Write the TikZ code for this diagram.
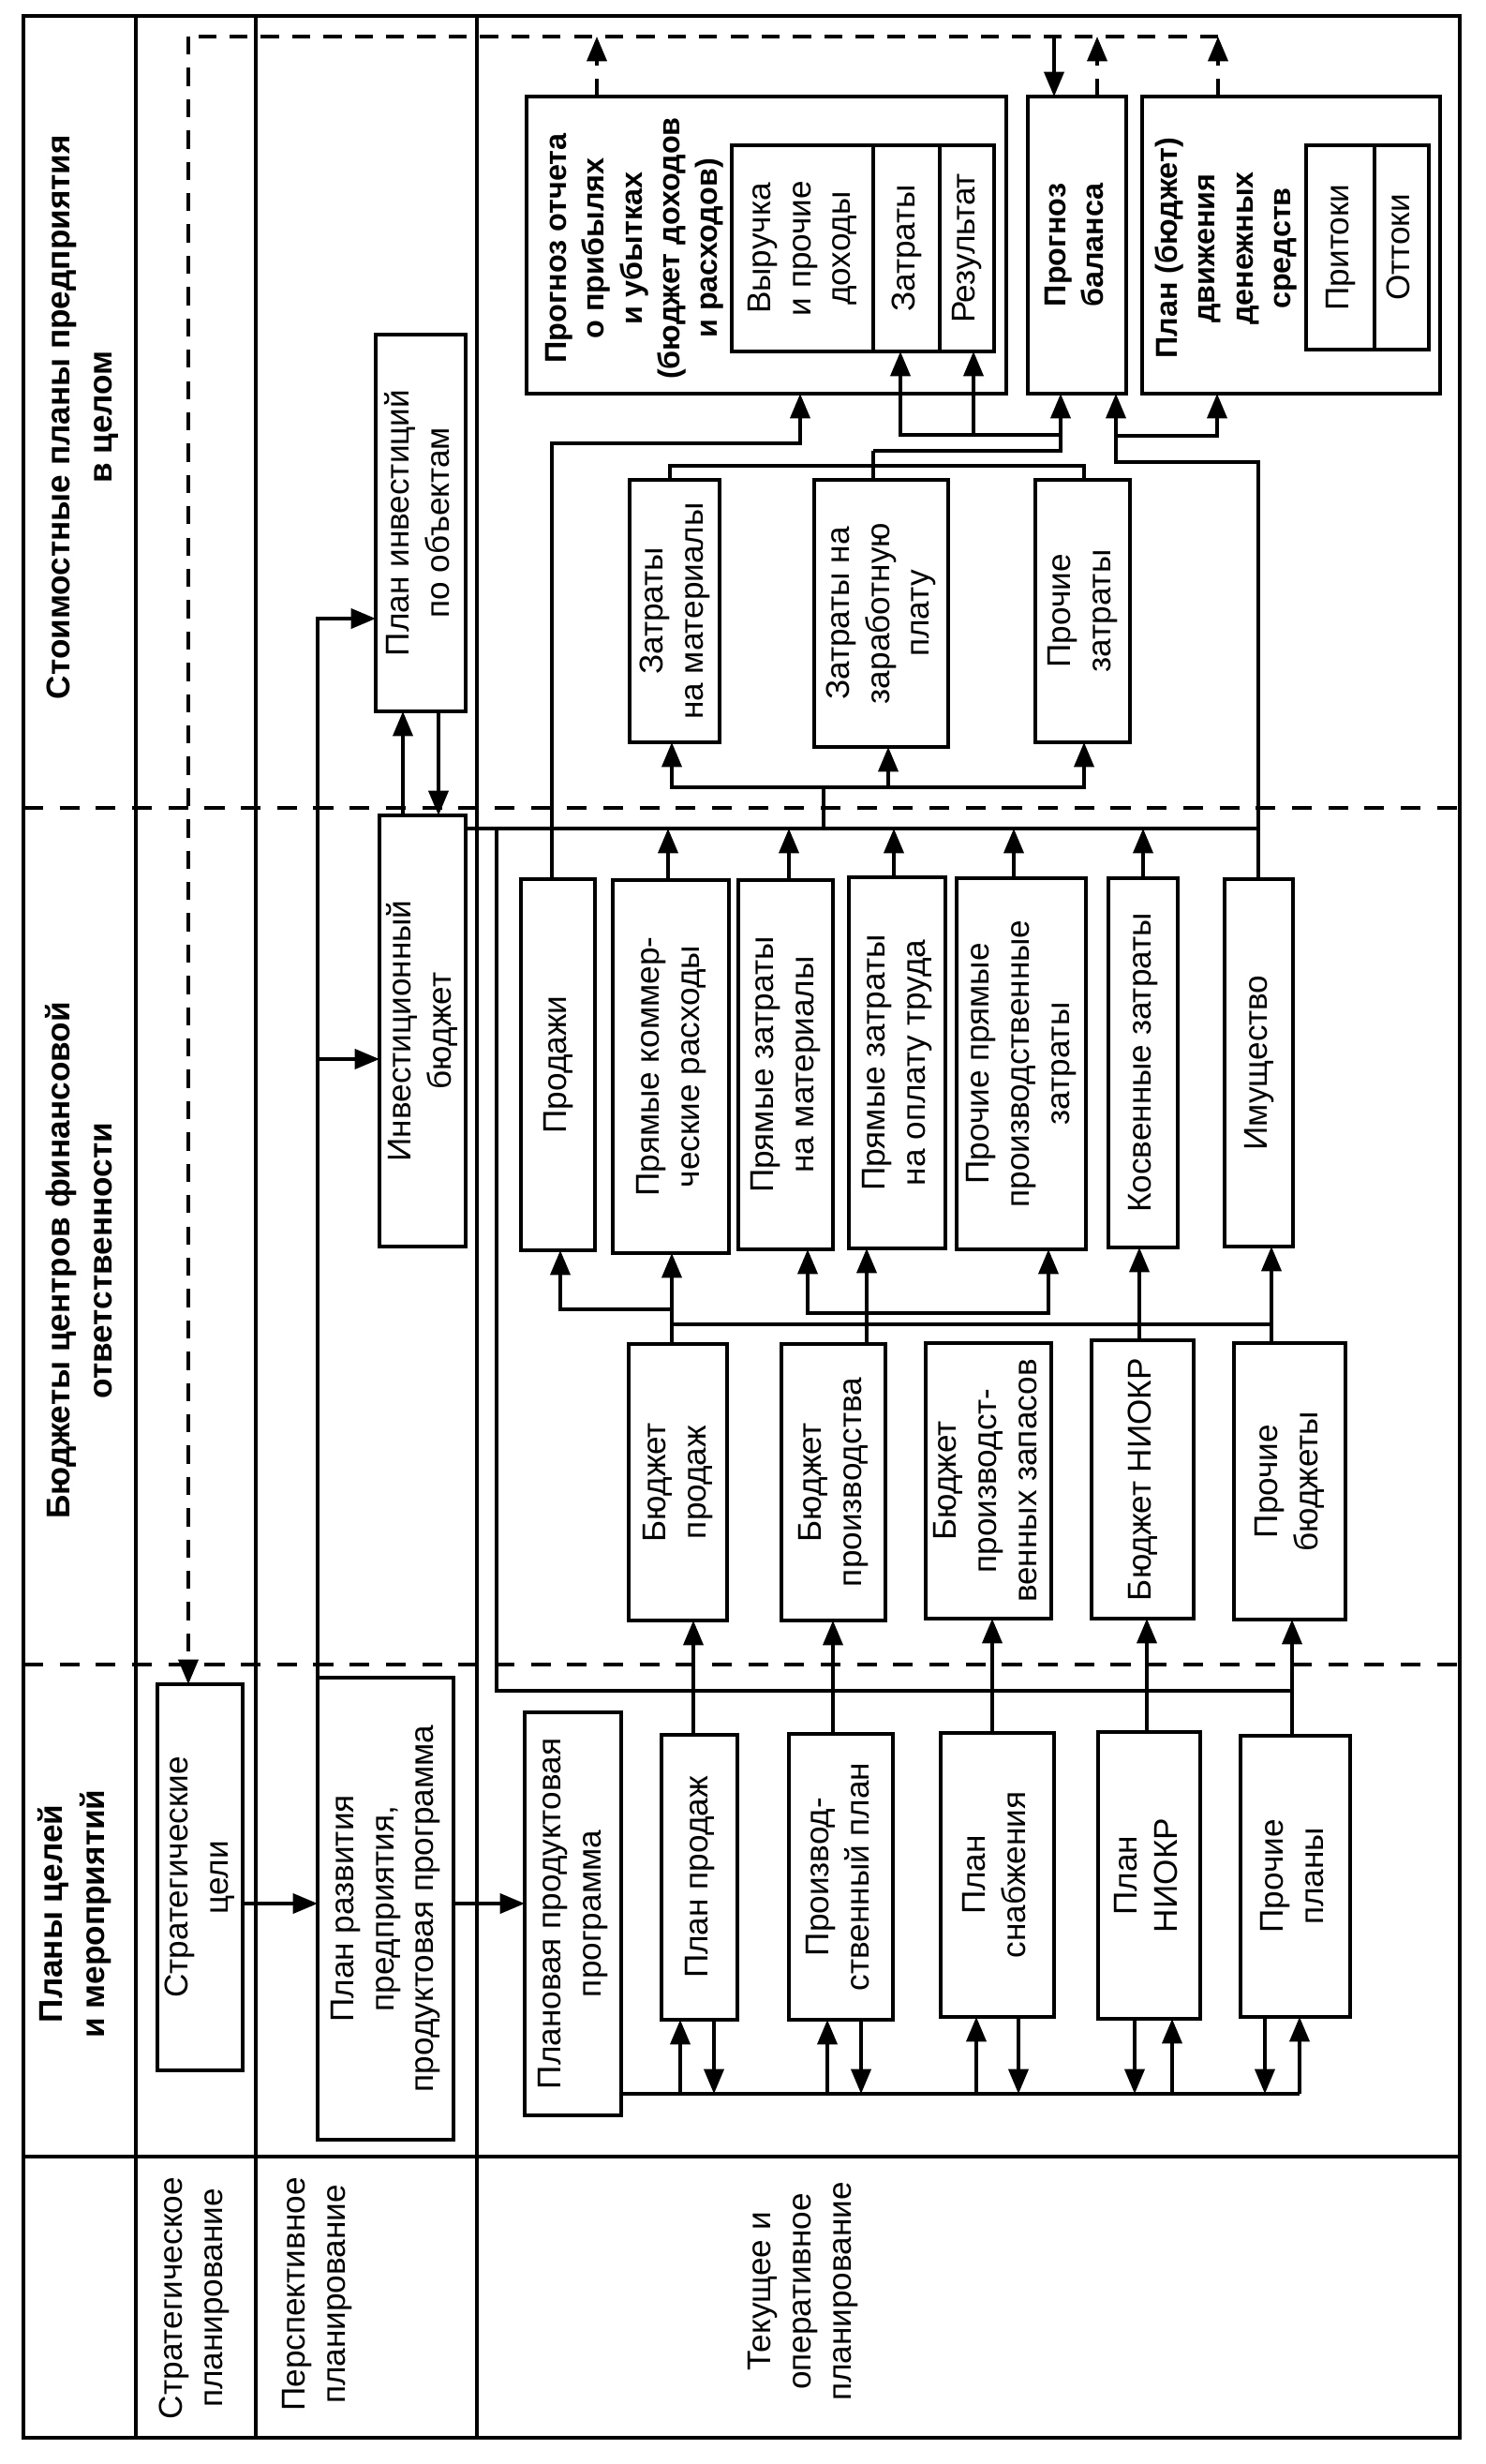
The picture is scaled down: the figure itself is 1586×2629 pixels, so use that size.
\documentclass[tikz,border=0pt]{standalone}
\usepackage{fontspec}
\setmainfont{Liberation Sans}
\usepackage{graphicx}
\usetikzlibrary{arrows.meta}
\newcommand\rt[1]{\rotatebox{90}{\begin{tabular}{@{}c@{}}#1\end{tabular}}}
\newcommand\bx[7][]{\node[box,#1,minimum width={(#5-#3)*0.01cm},minimum height={(#6-#4)*0.01cm}] (#2) at ({(#3+#5)/2},{(#4+#6)/2}) {\rt{#7}};}
\begin{document}
\begin{tikzpicture}[x=0.01cm,y=-0.01cm,
 box/.style={draw,line width=1.15pt,inner sep=0pt,outer sep=0pt,font=\fontsize{10}{12.2}\selectfont},
 bbox/.style={font=\fontsize{9.2}{11.5}\selectfont\bfseries},
 btxt/.style={inner sep=0pt,font=\fontsize{9.2}{11.5}\selectfont\bfseries},
 lbl/.style={inner sep=0pt,font=\fontsize{10}{12.2}\selectfont},
 hdr/.style={inner sep=0pt,font=\fontsize{10}{12.8}\selectfont\bfseries},
 frm/.style={line width=1.25pt},
 seprule/.style={line width=1pt,dash pattern=on 6pt off 5pt},
 ln/.style={line width=1pt},
 arr/.style={line width=1pt,-{Triangle[length=7.5pt,width=6pt]}},
 dln/.style={line width=1pt,dash pattern=on 5.5pt off 4pt},
 darr/.style={dln,-{Triangle[length=7.5pt,width=6pt]}}]
\useasboundingbox (0,0) rectangle (1586,2629);

% table frame
\draw[frm] (25,17) rectangle (1558,2601);
\draw[frm] (145,17) -- (145,2601);
\draw[frm] (273,17) -- (273,2601);
\draw[frm] (509,17) -- (509,2601);
\draw[frm] (25,2301) -- (1558,2301);
\draw[seprule] (25,862) -- (1558,862);
\draw[seprule] (25,1776) -- (1558,1776);

% headers
\node[hdr] (hA) at (88,445) {\rt{Стоимостные планы предприятия\\в целом}};
\node[hdr] (hB) at (88,1345) {\rt{Бюджеты центров финансовой\\ответственности}};
\node[hdr] (hC) at (80,2042) {\rt{Планы целей\\и мероприятий}};
\node[lbl] (rA) at (207,2452) {\rt{Стратегическое\\планирование}};
\node[lbl] (rB) at (338,2448) {\rt{Перспективное\\планирование}};
\node[lbl] (rC) at (857,2445) {\rt{Текущее и\\оперативное\\планирование}};

% plans
\bx{strat}{168}{1797}{259}{2209}{Стратегические\\цели}
\bx{razv}{339}{1790}{484}{2283}{План развития\\предприятия,\\продуктовая программа}
\bx{plprog}{560}{1827}{663}{2257}{Плановая продуктовая\\программа}
\bx{pprod}{706}{1851}{787}{2155}{План продаж}
\bx{prplan}{842}{1850}{953}{2155}{Производ-\\ственный план}
\bx{snab}{1004}{1849}{1125}{2152}{План\\снабжения}
\bx{niokr}{1172}{1848}{1281}{2154}{План\\НИОКР}
\bx{prochpl}{1324}{1852}{1441}{2152}{Прочие\\планы}

% budgets
\bx{bprod}{671}{1434}{776}{1729}{Бюджет\\продаж}
\bx{bproizv}{834}{1434}{945}{1729}{Бюджет\\производства}
\bx{bzap}{988}{1433}{1122}{1727}{Бюджет\\производст-\\венных запасов}
\bx{bniokr}{1165}{1430}{1274}{1727}{Бюджет НИОКР}
\bx{bproch}{1317}{1433}{1436}{1728}{Прочие\\бюджеты}

% investment
\bx{invb}{405}{870}{497}{1330}{Инвестиционный\\бюджет}
\bx{invpl}{401}{357}{497}{759}{План инвестиций\\по объектам}

% responsibility centres
\bx{prodazhi}{556}{938}{635}{1334}{Продажи}
\bx{pkr}{654}{939}{778}{1337}{Прямые коммер-\\ческие расходы}
\bx{pzm}{788}{939}{889}{1333}{Прямые затраты\\на материалы}
\bx{pzt}{906}{936}{1009}{1332}{Прямые затраты\\на оплату труда}
\bx{ppz}{1021}{937}{1159}{1333}{Прочие прямые\\производственные\\затраты}
\bx{kosv}{1183}{937}{1257}{1331}{Косвенные затраты}
\bx{imush}{1307}{938}{1380}{1330}{Имущество}

% cost types
\bx{zmat}{672}{512}{768}{792}{Затраты\\на материалы}
\bx{zzp}{869}{512}{1012}{797}{Затраты на\\заработную\\плату}
\bx{zpr}{1105}{512}{1206}{792}{Прочие\\затраты}

% financial statements
\bx{opu}{562}{103}{1074}{420}{}
\node[btxt] (opuT) at (677,265) {\rt{Прогноз отчета\\о прибылях\\и убытках\\(бюджет доходов\\и расходов)}};
\bx{opuA}{781}{155}{932}{375}{Выручка\\и прочие\\доходы}
\bx{opuB}{932}{155}{1003}{375}{Затраты}
\bx{opuC}{1003}{155}{1061}{375}{Результат}
\bx[bbox]{bal}{1097}{103}{1202}{420}{Прогноз\\баланса}
\bx{dds}{1219}{103}{1537}{420}{}
\node[btxt] (ddsT) at (1309,265) {\rt{План (бюджет)\\движения\\денежных\\средств}};
\bx{ddsA}{1394}{155}{1467}{373}{Притоки}
\bx{ddsB}{1467}{155}{1525}{373}{Оттоки}

% junction coordinates
\coordinate (jTop) at (201,39);
\coordinate (jTopR) at (1300,39);
\coordinate (jRv) at (339,660);
\coordinate (jRvB) at (339,1130);
\coordinate (jCol) at (1343,884);
\coordinate (jLoop) at (530,884);
\coordinate (jLoopB) at (530,1804);
\coordinate (jLoopE) at (1379,1804);
\coordinate (jBus) at (1387,2234);
\coordinate (jDist) at (879,840);
\coordinate (jCost) at (715,497);
\coordinate (jBal) at (1132,481);
\coordinate (jRes) at (1132,464);
\coordinate (jIm) at (1343,493);
\coordinate (jDds) at (1191,465);
\coordinate (jSal) at (589,473);

% top dashed feedback
\draw[dln] (jTopR) -- (jTop);
\draw[darr] (jTop) -- (jTop |- strat.north);
\draw[darr] (jTopR |- dds.north) -- (jTopR);
\draw[darr] (637,0 |- opu.north) -- (637,0 |- jTop);
\draw[darr] (1171,0 |- bal.north) -- (1171,0 |- jTop);
\draw[arr] (1125,0 |- jTop) -- (1125,0 |- bal.north);

% perspective planning
\draw[arr] (strat.east |- 0,2031) -- (razv.west |- 0,2031);
\draw[arr] (razv.east |- 0,2031) -- (plprog.west |- 0,2031);
\draw[arr] (jRv |- razv.north) -- (jRv) -- (invpl.west |- jRv);
\draw[arr] (jRvB) -- (invb.west |- jRvB);
\draw[arr] (430,0 |- invb.north) -- (430,0 |- invpl.south);
\draw[arr] (468,0 |- invpl.south) -- (468,0 |- invb.north);

% plan bus
\draw[ln] (plprog.east |- jBus) -- (jBus);
\draw[arr] (726,0 |- jBus) -- (726,0 |- pprod.south);
\draw[arr] (762,0 |- pprod.south) -- (762,0 |- jBus);
\draw[arr] (883,0 |- jBus) -- (883,0 |- prplan.south);
\draw[arr] (919,0 |- prplan.south) -- (919,0 |- jBus);
\draw[arr] (1042,0 |- jBus) -- (1042,0 |- snab.south);
\draw[arr] (1087,0 |- snab.south) -- (1087,0 |- jBus);
\draw[arr] (1211,0 |- niokr.south) -- (1211,0 |- jBus);
\draw[arr] (1251,0 |- jBus) -- (1251,0 |- niokr.south);
\draw[arr] (1350,0 |- prochpl.south) -- (1350,0 |- jBus);
\draw[arr] (jBus) -- (jBus |- prochpl.south);

% plans -> budgets
\draw[arr] (740,0 |- pprod.north) -- (740,0 |- bprod.south);
\draw[arr] (889,0 |- prplan.north) -- (889,0 |- bproizv.south);
\draw[arr] (1059,0 |- snab.north) -- (1059,0 |- bzap.south);
\draw[arr] (1224,0 |- niokr.north) -- (1224,0 |- bniokr.south);
\draw[arr] (jLoopE |- prochpl.north) -- (jLoopE |- bproch.south);

% loop line
\draw[ln] (invb.east |- jCol) -- (jCol);
\draw[ln] (jLoop) -- (jLoopB) -- (jLoopE);

% budgets -> responsibility centres
\draw[arr] (717,0 |- bprod.north) -- (717,0 |- pkr.south);
\draw[arr] (717,1397) -- (598,1397) -- (598,0 |- prodazhi.south);
\draw[ln] (717,1413) -- (1357,1413);
\draw[arr] (925,0 |- bproizv.north) -- (925,0 |- pzt.south);
\draw[arr] (925,1401) -- (862,1401) -- (862,0 |- pzm.south);
\draw[arr] (925,1401) -- (1119,1401) -- (1119,0 |- ppz.south);
\draw[arr] (1216,0 |- bniokr.north) -- (1216,0 |- kosv.south);
\draw[arr] (1357,0 |- bproch.north) -- (1357,0 |- imush.south);

% responsibility centres -> collector
\draw[arr] (713,0 |- pkr.north) -- (713,0 |- jCol);
\draw[arr] (842,0 |- pzm.north) -- (842,0 |- jCol);
\draw[arr] (954,0 |- pzt.north) -- (954,0 |- jCol);
\draw[arr] (1082,0 |- ppz.north) -- (1082,0 |- jCol);
\draw[arr] (1220,0 |- kosv.north) -- (1220,0 |- jCol);

% sales -> P&L
\draw[arr] (jSal |- prodazhi.north) -- (jSal) -- (854,0 |- jSal) -- (854,0 |- opu.south);

% property -> balance, cash flow
\draw[arr] (jIm |- imush.north) -- (jIm) -- (jDds |- jIm) -- (jDds |- bal.south);
\draw[arr] (jDds) -- (1299,0 |- jDds) -- (1299,0 |- dds.south);

% collector -> cost types
\draw[ln] (jDist |- jCol) -- (jDist);
\draw[arr] (jDist) -- (717,0 |- jDist) -- (717,0 |- zmat.south);
\draw[arr] (jDist) -- (1157,0 |- jDist) -- (1157,0 |- zpr.south);
\draw[arr] (948,0 |- jDist) -- (948,0 |- zzp.south);

% cost types -> P&L, balance
\draw[ln] (jCost |- zmat.north) -- (jCost) -- (1157,0 |- jCost) -- (1157,0 |- zpr.north);
\draw[ln] (932,0 |- zzp.north) -- (932,0 |- jBal);
\draw[arr] (932,0 |- jBal) -- (jBal) -- (jBal |- bal.south);
\draw[arr] (jRes) -- (961,0 |- jRes) -- (961,0 |- opuB.south);
\draw[arr] (1039,0 |- jRes) -- (1039,0 |- opuC.south);
\end{tikzpicture}
\end{document}
